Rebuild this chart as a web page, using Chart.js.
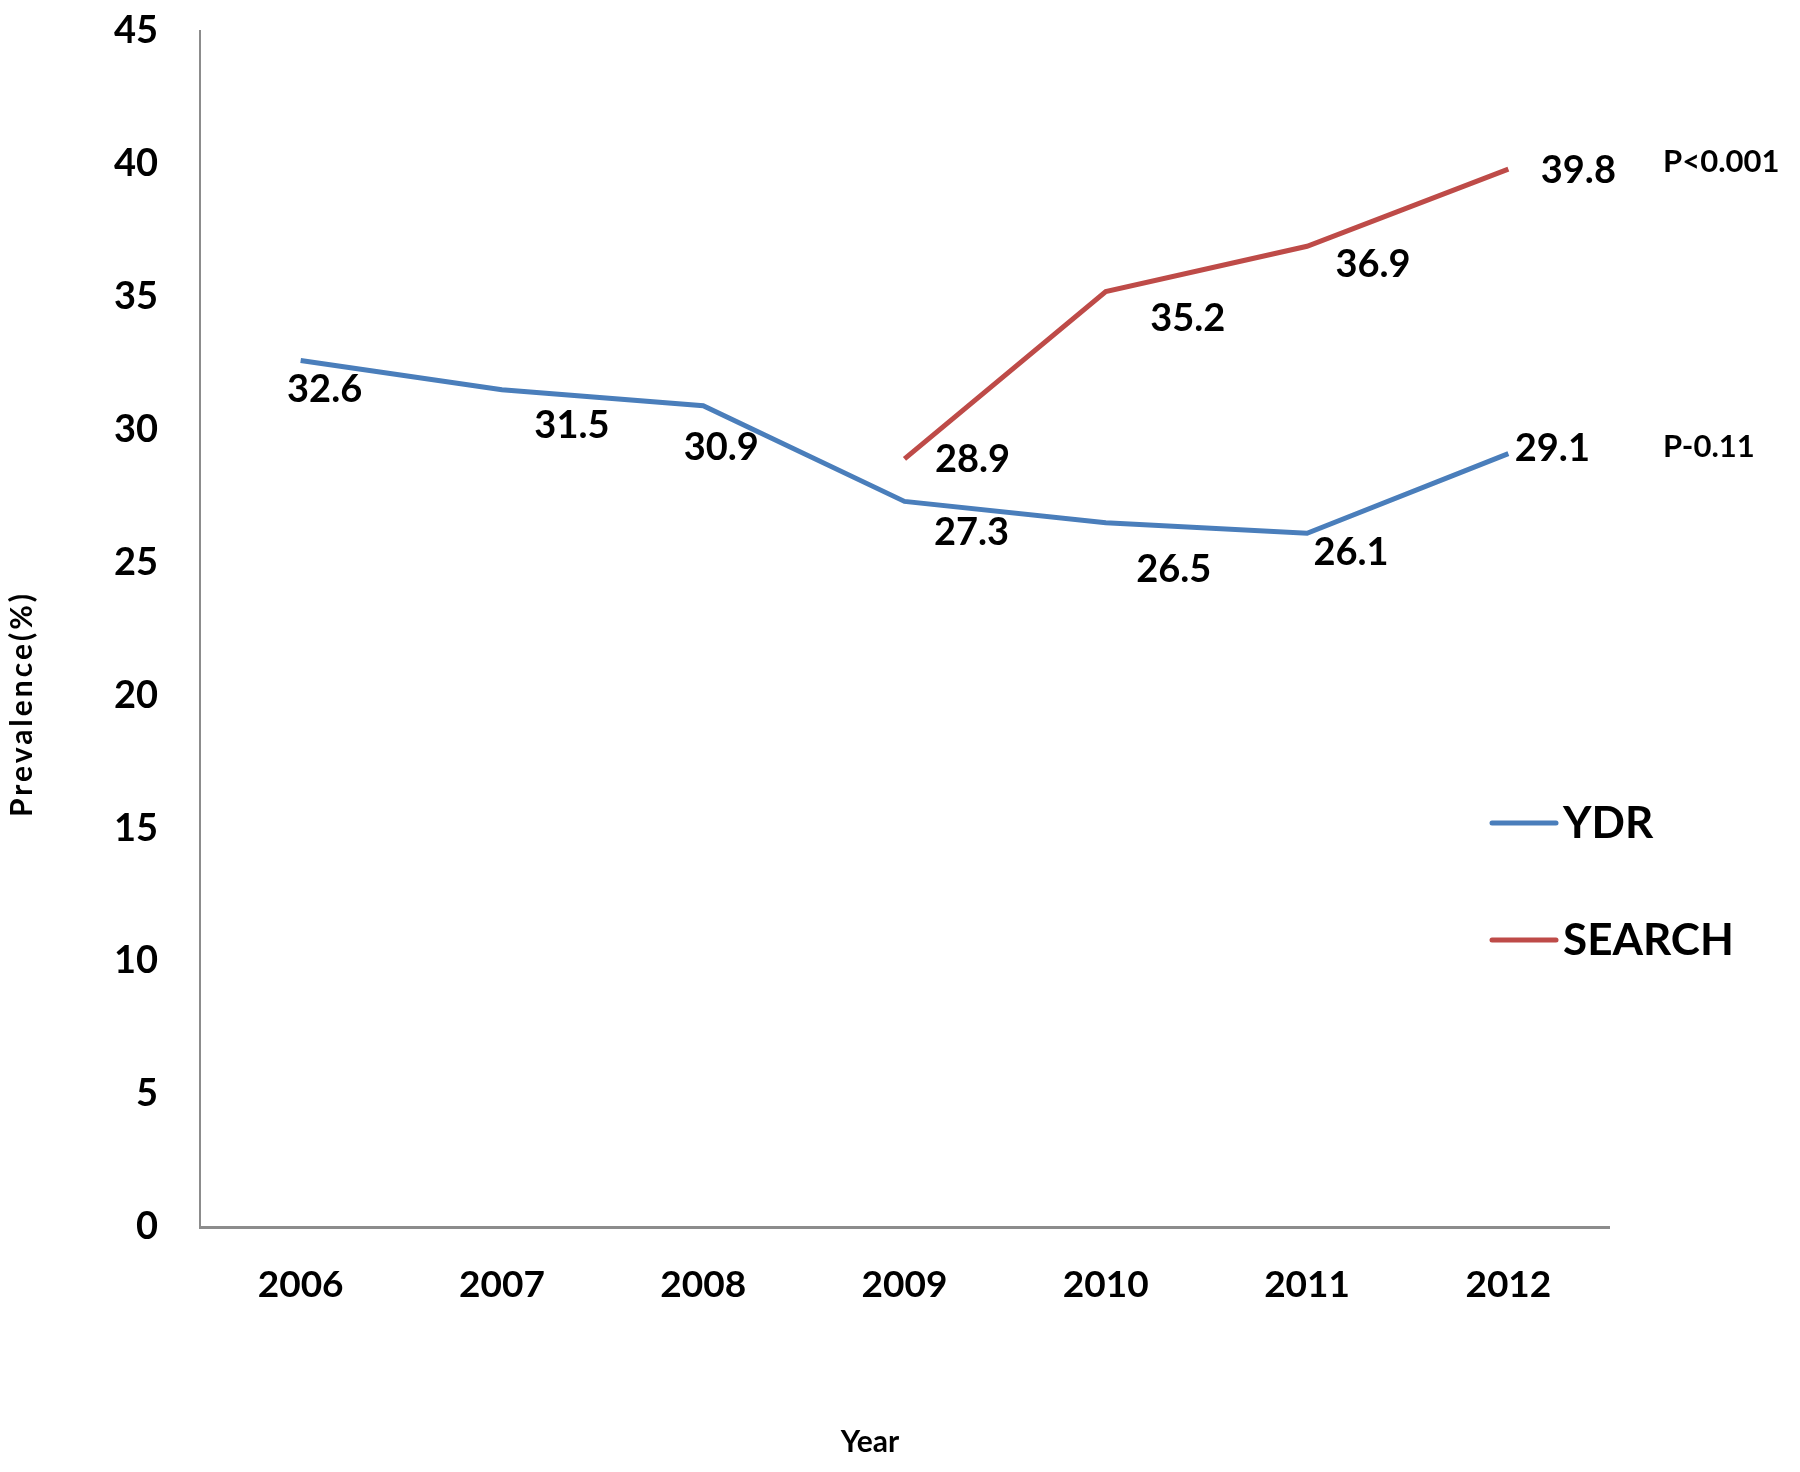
<!DOCTYPE html>
<html>
<head>
<meta charset="utf-8">
<script src="https://cdn.jsdelivr.net/npm/chart.js@4/dist/chart.umd.min.js"></script>
<style>
  html, body { margin: 0; padding: 0; background: #fff; }
  #wrap { width: 1800px; height: 1472px; position: relative; }
</style>
</head>
<body>
<div id="wrap"><canvas id="myChart"></canvas></div>
<script>
const years = ["2006", "2007", "2008", "2009", "2010", "2011", "2012"];
const ydr = [32.6, 31.5, 30.9, 27.3, 26.5, 26.1, 29.1];
const search = [null, null, null, 28.9, 35.2, 36.9, 39.8];
const pValues = ["P-0.11", "P<0.001"];

// where each value label sits relative to its point (Excel placed them by hand)
const ydrLabelShift = [[24, 29], [70, 36], [18, 42], [67, 31], [68, 47], [44, 19], [44, -5]];
const searchLabelShift = [null, null, null, [68, 1], [82, 27], [66, 18], [70, 2]];

const FONT = "Lato, 'Open Sans', sans-serif";
const blue = "#4a7ebb";
const red = "#be4b48";

const valueLabels = {
    id: "valueLabels",
    afterDatasetsDraw(chart) {
        const ctx = chart.ctx;
        const shifts = [ydrLabelShift, searchLabelShift];
        ctx.save();
        ctx.font = "bold 38px " + FONT;
        ctx.fillStyle = "#000";
        ctx.textAlign = "center";
        ctx.textBaseline = "middle";
        chart.data.datasets.forEach((ds, di) => {
            const meta = chart.getDatasetMeta(di);
            ds.data.forEach((v, i) => {
                if (v === null) return;
                const pt = meta.data[i];
                const s = shifts[di][i];
                ctx.fillText(v.toFixed(1), pt.x + s[0], pt.y + s[1]);
            });
        });

        // p-values next to the last point of each series
        ctx.font = "bold 31px " + FONT;
        ctx.textAlign = "left";
        chart.data.datasets.forEach((ds, di) => {
            const meta = chart.getDatasetMeta(di);
            const last = meta.data[ds.data.length - 1];
            ctx.fillText(pValues[di], 1663, last.y - 7);
        });
        ctx.restore();
    }
};

const sideLegend = {
    id: "sideLegend",
    afterDraw(chart) {
        const ctx = chart.ctx;
        const rows = [823, 940];
        ctx.save();
        ctx.font = "bold 44px " + FONT;
        ctx.textAlign = "left";
        ctx.textBaseline = "middle";
        chart.data.datasets.forEach((ds, i) => {
            ctx.strokeStyle = ds.borderColor;
            ctx.lineWidth = 5;
            ctx.lineCap = "round";
            ctx.beginPath();
            ctx.moveTo(1492, rows[i]);
            ctx.lineTo(1556, rows[i]);
            ctx.stroke();
            ctx.fillStyle = "#000";
            ctx.fillText(ds.label, 1563, rows[i] + 1);
        });
        ctx.restore();
    }
};

const axisTitles = {
    id: "axisTitles",
    afterDraw(chart) {
        const ctx = chart.ctx;
        ctx.save();
        ctx.font = "bold 30px " + FONT;
        ctx.fillStyle = "#000";
        ctx.textAlign = "center";
        ctx.textBaseline = "middle";
        ctx.fillText("Year", 870, 1442);
        ctx.translate(22, 704);
        ctx.rotate(-Math.PI / 2);
        ctx.letterSpacing = "3px";
        ctx.fillText("Prevalence(%)", 0, 0);
        ctx.restore();
    }
};

new Chart(document.getElementById("myChart"), {
    type: "line",
    data: {
        labels: years,
        datasets: [
            {
                label: "YDR",
                data: ydr,
                borderColor: blue,
                borderWidth: 5,
                pointRadius: 0,
                fill: false,
                tension: 0
            },
            {
                label: "SEARCH",
                data: search,
                borderColor: red,
                borderWidth: 5,
                pointRadius: 0,
                fill: false,
                tension: 0
            }
        ]
    },
    options: {
        responsive: true,
        maintainAspectRatio: false,
        animation: false,
        layout: { padding: { top: 31, right: 191, left: 0, bottom: 0 } },
        plugins: {
            legend: { display: false },
            tooltip: { enabled: false }
        },
        scales: {
            x: {
                offset: true,
                grid: { display: false, drawTicks: false },
                border: { color: "#8c8c8c", width: 3 },
                ticks: {
                    color: "#000",
                    font: { family: FONT, size: 37, weight: "bold" },
                    padding: 36
                },
                afterFit(scale) {
                    scale.height = 245;
                    scale.paddingLeft = 0;
                    scale.paddingRight = 0;
                }
            },
            y: {
                min: 0,
                max: 45,
                grid: { display: false, drawTicks: false },
                border: { color: "#8c8c8c", width: 2 },
                ticks: {
                    stepSize: 5,
                    color: "#000",
                    font: { family: FONT, size: 38, weight: "bold" },
                    padding: 42
                },
                afterFit(scale) {
                    scale.width = 200;
                    scale.paddingTop = 0;
                    scale.paddingBottom = 0;
                }
            }
        }
    },
    plugins: [valueLabels, sideLegend, axisTitles]
});
</script>
</body>
</html>
